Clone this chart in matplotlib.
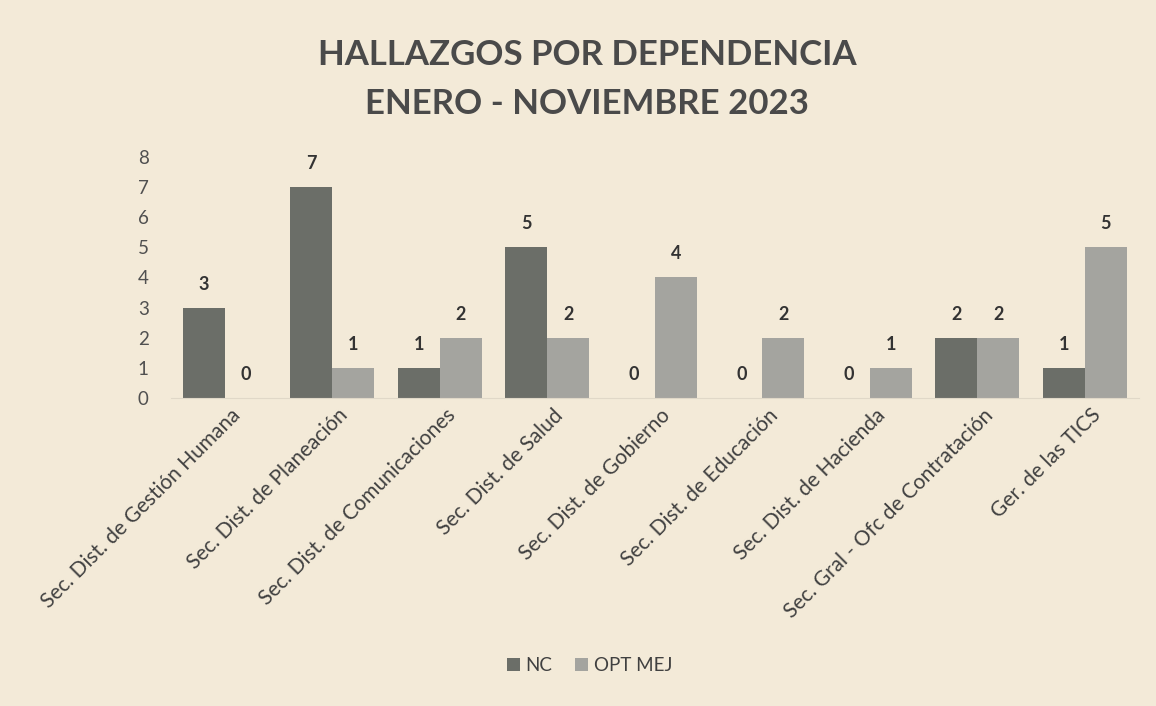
import numpy as np
import matplotlib.pyplot as plt

categorias = ["Sec. Dist. de Gestión Humana", "Sec. Dist. de Planeación",
              "Sec. Dist. de Comunicaciones", "Sec. Dist. de Salud",
              "Sec. Dist. de Gobierno", "Sec. Dist. de Educación",
              "Sec. Dist. de Hacienda", "Sec. Gral - Ofc de Contratación",
              "Ger. de las TICS"]
nc = [3, 7, 1, 5, 0, 0, 0, 2, 1]
opt_mej = [0, 1, 2, 2, 4, 2, 1, 2, 5]

fondo = "#f3ead8"
plt.rcParams['font.family'] = ['Lato', 'DejaVu Sans']

fig = plt.figure(figsize=(11.56, 7.06), dpi=100, facecolor=fondo)
ax = fig.add_axes([0.148, 0.436, 0.837, 0.342])
ax.set_facecolor(fondo)

x = np.arange(len(categorias))
w = 0.39
b1 = ax.bar(x - w/2, nc, w, color="#6b6e68", label="NC")
b2 = ax.bar(x + w/2, opt_mej, w, color="#a4a49f", label="OPT MEJ")

# etiquetas de valor sobre cada barra
for bars in (b1, b2):
    for r in bars:
        ax.text(r.get_x() + r.get_width()/2, r.get_height() + 0.5,
                str(int(r.get_height())), ha="center", va="bottom",
                fontsize=13, fontweight="bold", color="#333333")

ax.set_xlim(-0.5, len(categorias) - 0.5)
ax.set_ylim(0, 8)
ax.set_yticks(range(9))
ax.tick_params(axis="y", length=0, labelsize=13.5, labelcolor="#505050", pad=16)
ax.tick_params(axis="x", length=0, pad=5)
ax.set_xticks(x + 0.05)
ax.set_xticklabels(categorias, rotation=45, ha="right", rotation_mode="anchor",
                   fontsize=15, color="#404040")
for s in ["top", "right", "left"]:
    ax.spines[s].set_visible(False)
ax.spines["bottom"].set_color("#e0d8c8")

fig.text(0.508, 0.922, "HALLAZGOS POR DEPENDENCIA", ha="center", va="center",
         fontsize=25, fontweight="bold", color="#4a4a4a")
fig.text(0.508, 0.852, "ENERO - NOVIEMBRE 2023", ha="center", va="center",
         fontsize=25, fontweight="bold", color="#4a4a4a")

fig.legend(loc="center", bbox_to_anchor=(0.51, 0.057), ncol=2, frameon=False,
           fontsize=13.5, handlelength=0.7, handleheight=0.7, handletextpad=0.3,
           columnspacing=1.2, labelcolor="#404040")

fig.savefig("out.png", dpi=100, facecolor=fondo)
